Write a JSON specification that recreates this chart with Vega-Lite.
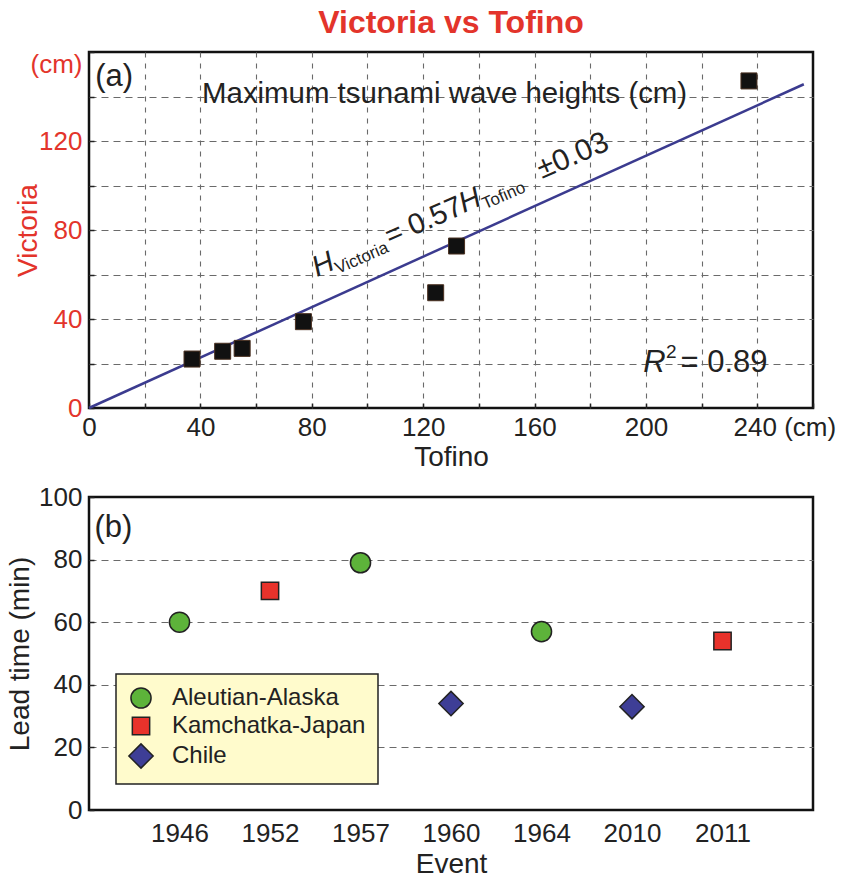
{
  "$schema": "https://vega.github.io/schema/vega-lite/v6.json",
  "background": "white",
  "padding": {"left": 5, "top": 5, "right": 5, "bottom": 5},
  "spacing": 9,
  "resolve": {"legend": {"color": "independent", "shape": "independent", "size": "independent"}},
  "config": {
    "font": "Liberation Sans",
    "view": {"stroke": "#111", "strokeWidth": 2.5},
    "axis": {
      "domain": false,
      "labelFont": "Liberation Sans",
      "titleFont": "Liberation Sans",
      "labelFontSize": 26,
      "titleFontSize": 28,
      "titleFontWeight": "normal",
      "labelColor": "#222",
      "titleColor": "#222",
      "gridColor": "#6a6a6a",
      "gridWidth": 1.1,
      "tickColor": "#222",
      "tickWidth": 1.5,
      "tickSize": -5,
      "labelOverlap": false,
      "labelFlush": false
    },
    "legend": {"strokeWidth": 1.5}
  },
  "vconcat": [
    {
      "width": 724,
      "height": 356,
      "title": {"text": "Victoria vs Tofino", "color": "#E3342B", "fontSize": 32, "fontWeight": "bold", "font": "Liberation Sans", "anchor": "middle", "offset": 11},
      "layer": [
        {
          "data": {"values": [{"Tofino": 0, "Victoria": 0}, {"Tofino": 256.7, "Victoria": 145.5}]},
          "mark": {"type": "line", "color": "#3B3B8F", "strokeWidth": 2.5},
          "encoding": {
            "x": {"field": "Tofino", "type": "quantitative", "scale": {"domain": [0, 260], "nice": false, "zero": true},
              "title": "Tofino",
              "axis": {
                "values": [0,10,20,30,40,50,60,70,80,90,100,110,120,130,140,150,160,170,180,190,200,210,220,230,240,250,260],
                "labelExpr": "datum.value == 240 ? '240 (cm)' : (datum.value % 40 == 0 ? datum.label : '')",
                "labelOffset": {"condition": {"test": "datum.value == 240", "value": 27}, "value": 0},
                "gridOpacity": {"condition": {"test": "datum.value % 20 == 0 && datum.value > 0 && datum.value < 260", "value": 1}, "value": 0},
                "gridDash": [5, 6],
                "labelPadding": 11,
                "titlePadding": 3
              }
            },
            "y": {"field": "Victoria", "type": "quantitative", "scale": {"domain": [0, 160], "nice": false},
              "title": "Victoria",
              "axis": {
                "values": [0,10,20,30,40,50,60,70,80,90,100,110,120,130,140,150,160],
                "labelExpr": "datum.value == 160 ? '(cm)' : (datum.value % 40 == 0 ? datum.label : '')",
                "labelOffset": {"condition": {"test": "datum.value == 160", "value": 12}, "value": 0},
                "gridOpacity": {"condition": {"test": "datum.value % 20 == 0 && datum.value > 0 && datum.value < 160", "value": 1}, "value": 0},
                "gridDash": [7, 5],
                "labelColor": "#E3342B",
                "titleColor": "#E3342B",
                "labelPadding": 12,
                "titlePadding": -12
              }
            }
          }
        },
        {
          "data": {"values": [
            {"Tofino": 37, "Victoria": 22},
            {"Tofino": 48, "Victoria": 25.5},
            {"Tofino": 55, "Victoria": 26.8},
            {"Tofino": 77, "Victoria": 38.8},
            {"Tofino": 124.5, "Victoria": 51.8},
            {"Tofino": 132, "Victoria": 72.8},
            {"Tofino": 237, "Victoria": 147}
          ]},
          "mark": {"type": "point", "shape": "square", "filled": true, "size": 256, "color": "#111", "stroke": "#4a3020", "strokeWidth": 1, "opacity": 1},
          "encoding": {
            "x": {"field": "Tofino", "type": "quantitative"},
            "y": {"field": "Victoria", "type": "quantitative"}
          }
        },
        {
          "data": {"values": [{}]},
          "mark": {"type": "text", "text": "(a)", "fontSize": 31, "align": "left", "baseline": "alphabetic", "color": "#222"},
          "encoding": {"x": {"datum": 2.2}, "y": {"datum": 144.8}}
        },
        {
          "data": {"values": [{}]},
          "mark": {"type": "text", "text": "Maximum tsunami wave heights (cm)", "fontSize": 29.4, "align": "left", "baseline": "alphabetic", "color": "#222"},
          "encoding": {"x": {"datum": 40.6}, "y": {"datum": 137.1}}
        },
        {
          "data": {"values": [{}]},
          "mark": {"type": "text", "text": "R", "fontSize": 31, "fontStyle": "italic", "align": "left", "baseline": "alphabetic", "color": "#222"},
          "encoding": {"x": {"datum": 199.0}, "y": {"datum": 16.2}}
        },
        {
          "data": {"values": [{}]},
          "mark": {"type": "text", "text": "2", "fontSize": 19, "align": "left", "baseline": "alphabetic", "color": "#222"},
          "encoding": {"x": {"datum": 207.2}, "y": {"datum": 22.5}}
        },
        {
          "data": {"values": [{}]},
          "mark": {"type": "text", "text": "= 0.89", "fontSize": 31, "align": "left", "baseline": "alphabetic", "color": "#222"},
          "encoding": {"x": {"datum": 212.4}, "y": {"datum": 16.2}}
        },
        {
          "data": {"values": [{}]},
          "mark": {"type": "text", "text": "H", "fontSize": 29, "fontStyle": "italic", "align": "left", "baseline": "alphabetic", "angle": -23.5, "color": "#222"},
          "encoding": {"x": {"datum": 81.9}, "y": {"datum": 58.9}}
        },
        {
          "data": {"values": [{}]},
          "mark": {"type": "text", "text": "Victoria", "fontSize": 17, "align": "left", "baseline": "alphabetic", "angle": -23.5, "color": "#222"},
          "encoding": {"x": {"datum": 89.4}, "y": {"datum": 60.2}}
        },
        {
          "data": {"values": [{}]},
          "mark": {"type": "text", "text": "= 0.57", "fontSize": 29, "align": "left", "baseline": "alphabetic", "angle": -23.5, "color": "#222"},
          "encoding": {"x": {"datum": 108.1}, "y": {"datum": 72.9}}
        },
        {
          "data": {"values": [{}]},
          "mark": {"type": "text", "text": "H", "fontSize": 29, "fontStyle": "italic", "align": "left", "baseline": "alphabetic", "angle": -23.5, "color": "#222"},
          "encoding": {"x": {"datum": 134.6}, "y": {"datum": 87.6}}
        },
        {
          "data": {"values": [{}]},
          "mark": {"type": "text", "text": "Tofino", "fontSize": 17, "align": "left", "baseline": "alphabetic", "angle": -23.5, "color": "#222"},
          "encoding": {"x": {"datum": 142.2}, "y": {"datum": 89.2}}
        },
        {
          "data": {"values": [{}]},
          "mark": {"type": "text", "text": "±0.03", "fontSize": 30, "align": "left", "baseline": "alphabetic", "angle": -23.5, "color": "#222"},
          "encoding": {"x": {"datum": 162.7}, "y": {"datum": 102.9}}
        }
      ]
    },
    {
      "width": 724,
      "height": 313,
      "layer": [
        {
          "data": {"values": [
            {"Event": "1946", "Source": "Aleutian-Alaska", "Lead": 60},
            {"Event": "1952", "Source": "Kamchatka-Japan", "Lead": 70},
            {"Event": "1957", "Source": "Aleutian-Alaska", "Lead": 79},
            {"Event": "1960", "Source": "Chile", "Lead": 34},
            {"Event": "1964", "Source": "Aleutian-Alaska", "Lead": 57},
            {"Event": "2010", "Source": "Chile", "Lead": 33},
            {"Event": "2011", "Source": "Kamchatka-Japan", "Lead": 54}
          ]},
          "mark": {"type": "point", "filled": true, "opacity": 1, "stroke": "#222", "strokeWidth": 1.5},
          "encoding": {
            "x": {"field": "Event", "type": "ordinal", "sort": ["1946","1952","1957","1960","1964","2010","2011"],
              "scale": {"type": "point", "padding": 1},
              "title": "Event",
              "axis": {"labelAngle": 0, "ticks": false, "gridDash": [5, 6], "labelPadding": 10, "titlePadding": 4}
            },
            "y": {"field": "Lead", "type": "quantitative", "scale": {"domain": [0, 100], "nice": false},
              "title": "Lead time (min)",
              "axis": {
                "values": [0,10,20,30,40,50,60,70,80,90,100],
                "labelExpr": "datum.value % 20 == 0 ? datum.label : ''",
                "gridOpacity": {"condition": {"test": "datum.value % 20 == 0 && datum.value > 0 && datum.value < 100", "value": 1}, "value": 0},
                "gridDash": [7, 5],
                "labelPadding": 12,
                "titlePadding": 4
              }
            },
            "color": {"field": "Source", "type": "nominal",
              "scale": {"domain": ["Aleutian-Alaska", "Kamchatka-Japan", "Chile"], "range": ["#5DB33A", "#E8322B", "#3E3E96"]},
              "legend": {
                "title": null, "orient": "none", "legendX": 27, "legendY": 177,
                "fillColor": "#FFFBCC", "strokeColor": "#222", "padding": 12,
                "labelFontSize": 24, "labelColor": "#222", "labelFont": "Liberation Sans", "labelLimit": 400,
                "labelOffset": 18, "rowPadding": 2,
                "symbolStrokeColor": "#222", "symbolStrokeWidth": 1.5, "symbolOpacity": 1
              }
            },
            "shape": {"field": "Source", "type": "nominal",
              "scale": {"domain": ["Aleutian-Alaska", "Kamchatka-Japan", "Chile"], "range": ["circle", "square", "diamond"]}},
            "size": {"field": "Source", "type": "nominal",
              "scale": {"type": "ordinal", "domain": ["Aleutian-Alaska", "Kamchatka-Japan", "Chile"], "range": [405, 300, 590]}}
          }
        },
        {
          "data": {"values": [{}]},
          "mark": {"type": "text", "text": "(b)", "fontSize": 31, "align": "left", "baseline": "alphabetic", "color": "#222", "dx": -85},
          "encoding": {"x": {"datum": "1946"}, "y": {"datum": 87.2}}
        }
      ]
    }
  ]
}
